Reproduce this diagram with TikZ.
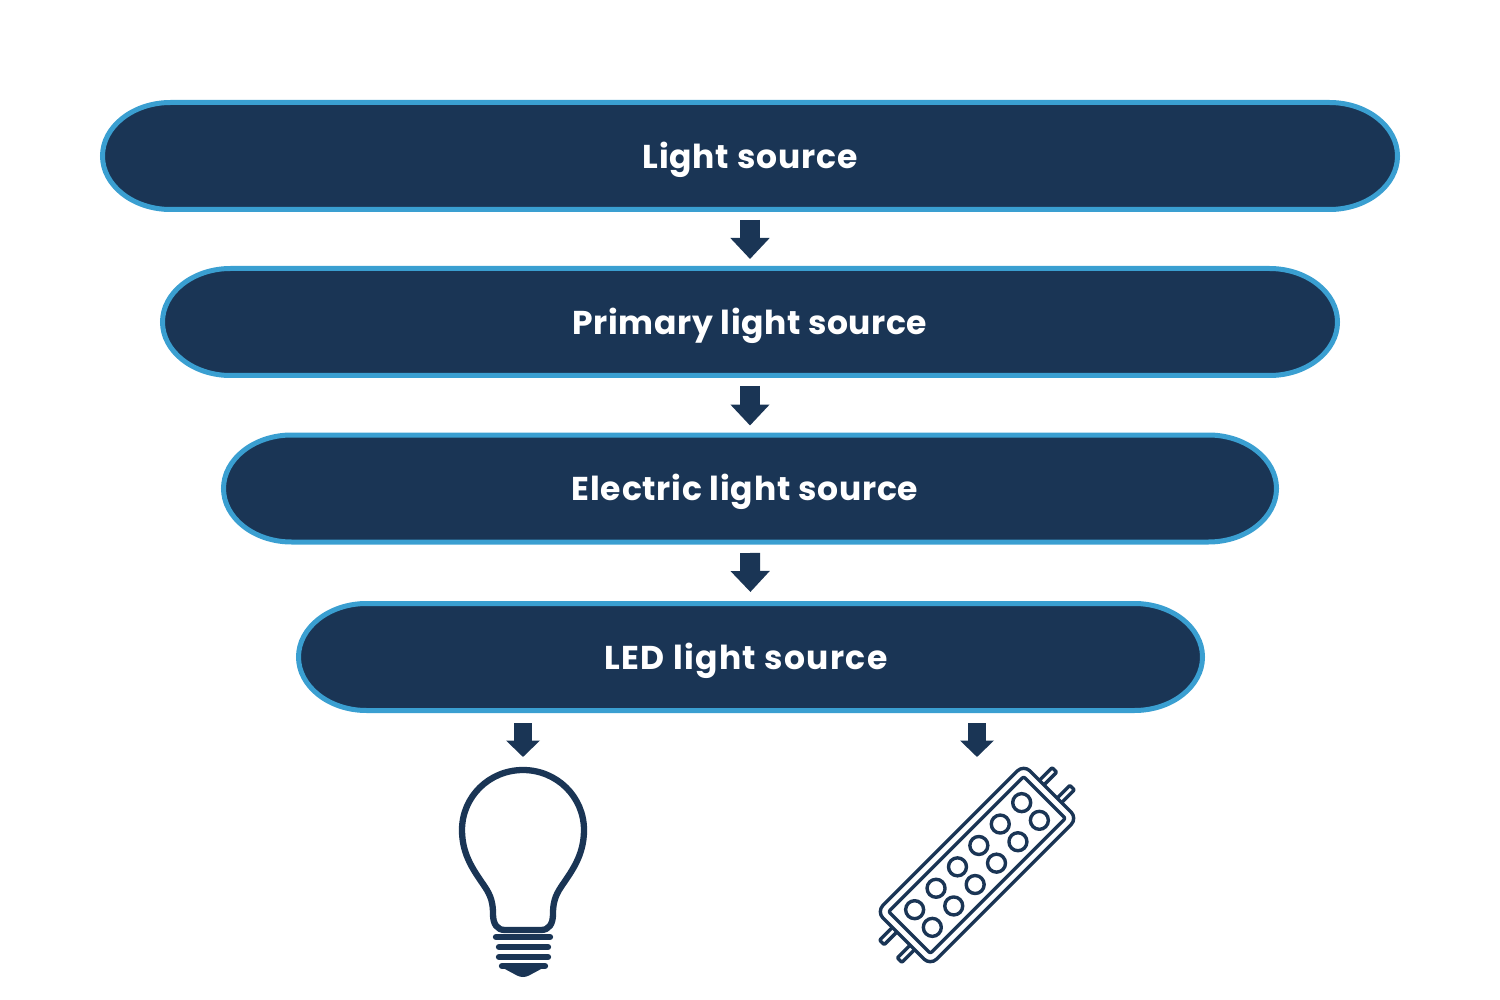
\documentclass[tikz,border=0pt]{standalone}
\usepackage{fontspec}
\setmainfont{Poppins}
\usetikzlibrary{arrows.meta}
\definecolor{navy}{HTML}{1A3555}
\definecolor{sky}{HTML}{3A9FD1}
\newcommand{\spaced}[2]{\addfontfeature{LetterSpace=#1}#2}
\tikzset{
  pillbox/.style={inner sep=0pt,outer sep=0pt,minimum height=107pt},
  pilledge/.style={draw=sky,fill=navy,line width=5pt},
  label/.style={text=white,inner sep=0pt,anchor=base,font=\fontsize{33}{38}\selectfont\bfseries},
  bigarrow/.style={navy,line width=20pt,-{Triangle[length=21pt,width=38pt]}},
  smallarrow/.style={navy,line width=17.5pt,-{Triangle[length=16.5pt,width=33pt]}},
  iconbox/.style={inner sep=0pt,outer sep=0pt},
  bulbline/.style={draw=navy,line width=6.3pt,line cap=round,line join=round},
  stripline/.style={draw=navy,line width=3.4pt,line join=round},
}
\newcommand{\pillshape}[1]{%
  \draw[pilledge] (#1.west)
    .. controls ([yshift=29.4pt]#1.west) and ([xshift=30.6pt]#1.north west) .. ([xshift=68pt]#1.north west)
    -- ([xshift=-68pt]#1.north east)
    .. controls ([xshift=-30.6pt]#1.north east) and ([yshift=29.4pt]#1.east) .. (#1.east)
    .. controls ([yshift=-29.4pt]#1.east) and ([xshift=-30.6pt]#1.south east) .. ([xshift=-68pt]#1.south east)
    -- ([xshift=68pt]#1.south west)
    .. controls ([xshift=30.6pt]#1.south west) and ([yshift=-29.4pt]#1.west) .. (#1.west) -- cycle;}
\begin{document}
\begin{tikzpicture}[x=1pt,y=-1pt]
\useasboundingbox (0,0) rectangle (1500,1000);
% pills
\node[pillbox,minimum width=1295pt] (p1) at (750,156) {};
\node[pillbox,minimum width=1175pt] (p2) at (750,322) {};
\node[pillbox,minimum width=1053pt] (p3) at (750,488.5) {};
\node[pillbox,minimum width=904pt] (p4) at (750.5,657) {};
\pillshape{p1}\pillshape{p2}\pillshape{p3}\pillshape{p4}
\node[label] (t1) at (750,168.5) {\spaced{2.5}{Light source}};
\node[label] (t2) at (750,334.5) {\spaced{1.8}{Primary light source}};
\node[label] (t3) at (745,500) {\spaced{2.3}{Electric light source}};
\node[label] (t4) at (746,669) {\spaced{4.1}{LED light source}};
% icon holders
\node[iconbox,minimum width=130pt,minimum height=212pt] (bulb) at (523,872) {};
\node[iconbox,minimum width=200pt,minimum height=198pt] (strip) at (977,865) {};
% connectors
\draw[bigarrow,shorten <=10.5pt,shorten >=9.5pt] (p1.south) -- (p2.north);
\draw[bigarrow,shorten <=10.5pt,shorten >=9.5pt] (p2.south) -- (p3.north);
\draw[bigarrow,shorten <=11pt,shorten >=11.5pt] (p3.south) -- (p4.north);
\draw[smallarrow,shorten <=12.5pt,shorten >=9pt] (bulb.north |- p4.south) -- (bulb.north);
\draw[smallarrow,shorten <=12.5pt,shorten >=9pt] (strip.north |- p4.south) -- (strip.north);
% bulb
\draw[bulbline] (505,930)
  .. controls (497,930) and (493,924) .. (493,914)
  .. controls (493,903) and (491,896) .. (485,887)
  .. controls (475,872) and (462,856) .. (462,830)
  .. controls (462,797) and (489,770) .. (523,770)
  .. controls (557,770) and (584,797) .. (584,830)
  .. controls (584,856) and (571,872) .. (561,887)
  .. controls (555,896) and (553,903) .. (553,914)
  .. controls (553,924) and (549,930) .. (541,930) -- cycle;
\draw[bulbline] (496,937) -- (550,937);
\draw[bulbline] (499,947) -- (548,947);
\draw[bulbline] (499,957) -- (548,957);
\draw[bulbline] (502,966) -- (545,966);
\fill[navy] (503,968) -- (543,968) -- (529,975.5) .. controls (525,977.5) and (521,977.5) .. (517,975.5) -- cycle;
% LED strip
\begin{scope}[shift={(977,865)},x={(.7071pt,.7071pt)},y={(.7071pt,-.7071pt)}]
  \foreach \v/\a/\b in {-12.5/-15.7/-9.3,12.5/9.3/15.7}{
    \draw[stripline,fill=white,rounded corners=1pt] (100,\a) -- (122,\a) -- (122,\b) -- (100,\b) -- cycle;
    \draw[stripline,fill=white,rounded corners=1pt] (-100,\a) -- (-122,\a) -- (-122,\b) -- (-100,\b) -- cycle;
  }
  \draw[stripline,fill=white,rounded corners=9pt] (-104,-38) -- (104,-38) -- (104,38) -- (-104,38) -- cycle;
  \draw[stripline,rounded corners=2pt] (-95.5,-29.5) -- (95.5,-29.5) -- (95.5,29.5) -- (-95.5,29.5) -- cycle;
  \foreach \u in {-75.7,-45.4,-15.1,15.1,45.4,75.7}
    \foreach \v in {-12.5,12.5}
      \draw[stripline] (\u,\v) circle[radius=9pt];
\end{scope}
\end{tikzpicture}
\end{document}
